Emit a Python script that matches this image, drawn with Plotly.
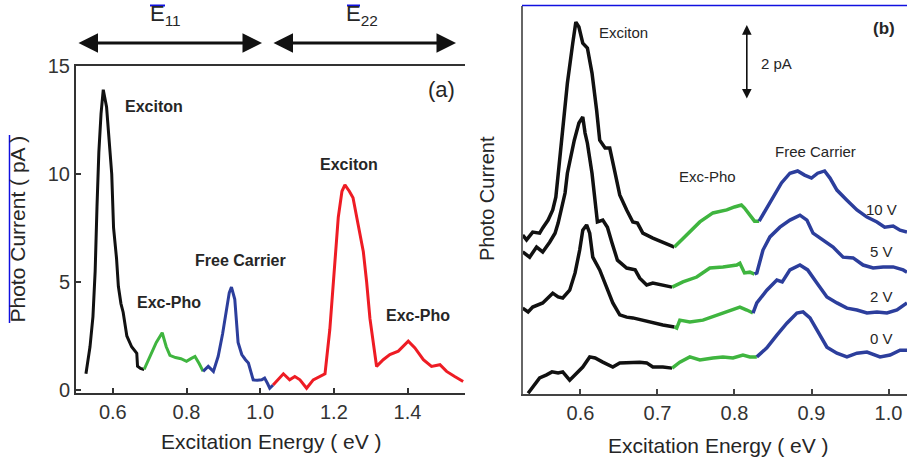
import plotly.graph_objects as go

W, H = 907, 459
FONT = "Liberation Sans, Arial, Helvetica, sans-serif"

# ---------------- Panel (a) data ----------------
a_e11_exc_x = [0.527, 0.538, 0.546, 0.552, 0.557, 0.562, 0.568, 0.574, 0.583, 0.592, 0.597, 0.602,
               0.610, 0.615, 0.622, 0.628, 0.638, 0.651, 0.665, 0.667, 0.675, 0.685]
a_e11_exc_y = [0.75, 2.0, 3.4, 5.5, 8.5, 11.0, 12.8, 13.9, 13.1, 11.2, 10.0, 7.5,
               6.1, 4.8, 4.0, 3.6, 2.5, 2.0, 1.7, 1.1, 1.0, 0.95]
a_e11_pho_x = [0.685, 0.700, 0.718, 0.734, 0.745, 0.755, 0.770, 0.785, 0.800, 0.812, 0.823, 0.835, 0.845]
a_e11_pho_y = [0.95, 1.5, 2.2, 2.65, 2.0, 1.6, 1.5, 1.45, 1.33, 1.45, 1.55, 1.2, 0.86]
a_fc_x = [0.845, 0.859, 0.873, 0.886, 0.898, 0.909, 0.916, 0.922, 0.931, 0.940, 0.950, 0.960,
          0.968, 0.981, 0.992, 1.004, 1.012, 1.020, 1.026, 1.035]
a_fc_y = [0.86, 1.09, 0.86, 1.56, 2.6, 3.75, 4.5, 4.76, 4.2, 2.2, 1.64, 1.4,
          1.25, 0.47, 0.45, 0.47, 0.55, 0.3, 0.08, 0.23]
a_e22_x = [1.035, 1.050, 1.063, 1.080, 1.094, 1.108, 1.126, 1.144, 1.162, 1.176, 1.189, 1.198,
           1.212, 1.222, 1.230, 1.242, 1.252, 1.266, 1.280, 1.289, 1.298, 1.316, 1.334, 1.352,
           1.375, 1.402, 1.420, 1.443, 1.465, 1.488, 1.506, 1.528, 1.551]
a_e22_y = [0.23, 0.5, 0.75, 0.47, 0.62, 0.47, 0.08, 0.47, 0.62, 0.75, 2.8, 5.0,
           8.0, 9.2, 9.5, 9.2, 8.9, 7.65, 6.4, 5.0, 3.3, 1.09, 1.4, 1.64,
           1.8, 2.26, 1.95, 1.4, 1.09, 1.17, 0.86, 0.62, 0.39]
a_xticks = [0.6, 0.8, 1.0, 1.2, 1.4]
a_xticktext = ["0.6", "0.8", "1.0", "1.2", "1.4"]
a_yticks = [0, 5, 10, 15]
a_yticktext = ["0", "5", "10", "15"]

# ---------------- Panel (b) data (curves offset for bias) ----------------
b10_exc_x = [0.525, 0.530, 0.538, 0.547, 0.551, 0.558, 0.564, 0.568, 0.572, 0.577, 0.583, 0.590,
             0.594, 0.598, 0.603, 0.609, 0.615, 0.621, 0.625, 0.632, 0.638, 0.645, 0.651, 0.660,
             0.668, 0.674, 0.681, 0.694, 0.707, 0.722]
b10_exc_y = [4.24, 4.11, 4.32, 4.29, 4.43, 4.64, 4.91, 5.25, 6.05, 7.12, 8.29, 9.36,
             9.92, 9.79, 9.36, 9.23, 8.56, 7.57, 6.77, 6.56, 6.56, 5.89, 5.31, 4.91,
             4.59, 4.56, 4.29, 4.16, 4.05, 3.92]
b10_pho_x = [0.722, 0.738, 0.755, 0.772, 0.790, 0.800, 0.809, 0.813, 0.820, 0.826, 0.832]
b10_pho_y = [3.92, 4.24, 4.59, 4.83, 4.91, 4.99, 5.04, 4.96, 4.77, 4.61, 4.61]
b10_fc_x = [0.832, 0.839, 0.850, 0.861, 0.872, 0.882, 0.891, 0.900, 0.908, 0.917, 0.924, 0.933,
            0.946, 0.959, 0.972, 0.985, 0.995, 1.006, 1.015, 1.024]
b10_fc_y = [4.61, 4.85, 5.25, 5.63, 5.89, 5.95, 5.84, 5.76, 5.89, 5.95, 5.76, 5.44,
            5.17, 4.91, 4.72, 4.59, 4.45, 4.48, 4.37, 4.32]

b5_exc_x = [0.525, 0.534, 0.543, 0.551, 0.560, 0.567, 0.571, 0.576, 0.580, 0.583, 0.592, 0.598,
            0.603, 0.606, 0.609, 0.615, 0.619, 0.622, 0.629, 0.635, 0.641, 0.648, 0.660, 0.671,
            0.677, 0.686, 0.694, 0.707, 0.719]
b5_exc_y = [3.79, 3.65, 3.92, 3.79, 4.05, 4.29, 4.56, 4.99, 5.36, 5.89, 6.77, 7.23,
            7.39, 6.96, 6.69, 5.89, 5.09, 4.59, 4.64, 4.45, 4.03, 3.57, 3.36, 3.31,
            3.09, 2.91, 2.96, 2.91, 2.85]
b5_pho_x = [0.719, 0.733, 0.751, 0.768, 0.785, 0.803, 0.807, 0.813, 0.820, 0.826]
b5_pho_y = [2.85, 2.99, 3.12, 3.36, 3.39, 3.44, 3.49, 3.23, 3.25, 3.20]
b5_fc_x = [0.826, 0.829, 0.837, 0.846, 0.859, 0.872, 0.885, 0.894, 0.902, 0.915, 0.928, 0.941,
           0.954, 0.967, 0.980, 0.993, 1.006, 1.019, 1.024]
b5_fc_y = [3.20, 3.23, 3.84, 4.19, 4.45, 4.64, 4.77, 4.64, 4.29, 4.11, 3.92, 3.65,
           3.63, 3.44, 3.36, 3.39, 3.39, 3.31, 3.25]

b2_exc_x = [0.525, 0.532, 0.538, 0.551, 0.564, 0.571, 0.577, 0.586, 0.593, 0.599, 0.603, 0.608,
            0.612, 0.616, 0.625, 0.634, 0.642, 0.651, 0.660, 0.668, 0.681, 0.694, 0.707, 0.722]
b2_exc_y = [2.29, 2.19, 2.32, 2.43, 2.69, 2.59, 2.56, 2.77, 3.23, 3.84, 4.37, 4.51,
            4.29, 3.65, 3.31, 2.85, 2.43, 2.11, 2.05, 2.03, 1.97, 1.89, 1.84, 1.79]
b2_pho_x = [0.722, 0.725, 0.729, 0.742, 0.759, 0.777, 0.794, 0.807, 0.816, 0.824]
b2_pho_y = [1.79, 1.76, 1.97, 1.92, 1.97, 2.11, 2.24, 2.32, 2.24, 2.16]
b2_fc_x = [0.824, 0.829, 0.842, 0.855, 0.862, 0.872, 0.885, 0.895, 0.907, 0.920, 0.933, 0.946,
           0.959, 0.972, 0.985, 0.998, 1.011, 1.024]
b2_fc_y = [2.16, 2.43, 2.77, 3.04, 2.99, 3.31, 3.44, 3.31, 2.96, 2.59, 2.43, 2.29,
           2.24, 2.16, 2.19, 2.16, 2.24, 2.43]

b0_exc_x = [0.532, 0.538, 0.547, 0.556, 0.563, 0.571, 0.577, 0.586, 0.595, 0.603, 0.612, 0.619,
            0.629, 0.642, 0.651, 0.664, 0.677, 0.686, 0.694, 0.707, 0.719]
b0_exc_y = [0.02, 0.19, 0.43, 0.51, 0.59, 0.56, 0.59, 0.37, 0.56, 0.72, 0.99, 0.96,
            0.85, 0.72, 0.83, 0.85, 0.85, 0.83, 0.72, 0.72, 0.69]
b0_pho_x = [0.719, 0.729, 0.742, 0.755, 0.772, 0.785, 0.798, 0.811, 0.820, 0.829]
b0_pho_y = [0.69, 0.85, 0.99, 0.91, 0.96, 0.99, 0.96, 1.04, 0.99, 0.99]
b0_fc_x = [0.829, 0.842, 0.855, 0.868, 0.881, 0.889, 0.898, 0.907, 0.920, 0.933, 0.946, 0.959,
           0.972, 0.989, 1.002, 1.015, 1.024]
b0_fc_y = [0.99, 1.23, 1.57, 1.89, 2.16, 2.19, 2.03, 1.71, 1.25, 1.09, 0.99, 1.09,
           1.12, 0.99, 1.04, 1.17, 1.17]

b_xticks = [0.6, 0.7, 0.8, 0.9, 1.0]
b_xticktext = ["0.6", "0.7", "0.8", "0.9", "1.0"]
bias_labels = ["10 V", "5 V", "2 V", "0 V"]
scale_bar_pA = 2.0

# ---------------- colours ----------------
BLACK = "#111111"
GREEN = "#3fb53f"
BLUE = "#2c3e9c"
RED = "#ee1c24"
TXT = "#262626"

fig = go.Figure()

def add(x, y, color, width, xa, ya):
    fig.add_trace(go.Scatter(x=x, y=y, mode="lines", xaxis=xa, yaxis=ya,
                             line=dict(color=color, width=width),
                             hoverinfo="skip", showlegend=False))

add(a_e11_exc_x, a_e11_exc_y, BLACK, 3, "x", "y")
add(a_e11_pho_x, a_e11_pho_y, GREEN, 3, "x", "y")
add(a_fc_x, a_fc_y, BLUE, 3, "x", "y")
add(a_e22_x, a_e22_y, RED, 3, "x", "y")

for ex, ey, px, py, fx, fy in [
    (b10_exc_x, b10_exc_y, b10_pho_x, b10_pho_y, b10_fc_x, b10_fc_y),
    (b5_exc_x, b5_exc_y, b5_pho_x, b5_pho_y, b5_fc_x, b5_fc_y),
    (b2_exc_x, b2_exc_y, b2_pho_x, b2_pho_y, b2_fc_x, b2_fc_y),
    (b0_exc_x, b0_exc_y, b0_pho_x, b0_pho_y, b0_fc_x, b0_fc_y),
]:
    add(ex, ey, BLACK, 3.5, "x2", "y2")
    add(px, py, GREEN, 3.5, "x2", "y2")
    add(fx, fy, BLUE, 3.5, "x2", "y2")

def px2paper(xp, yp):
    return xp / W, 1 - yp / H

tickfont = dict(family=FONT, size=20, color="#333333")

fig.update_layout(
    template="none",
    width=W, height=H, autosize=False,
    margin=dict(l=0, r=0, t=0, b=0, pad=0, autoexpand=False),
    paper_bgcolor="white", plot_bgcolor="white", showlegend=False,
    xaxis=dict(domain=[76 / W, 465 / W], range=[0.5, 1.556], tickvals=a_xticks, ticktext=a_xticktext,
               ticks="inside", ticklen=5, tickwidth=1.5, tickcolor="#333", automargin=False,
               showline=True, linecolor="#333", linewidth=2, mirror=True,
               showgrid=False, zeroline=False, tickfont=tickfont, anchor="y"),
    yaxis=dict(domain=[1 - 393 / H, 1 - 66 / H], range=[-0.14, 15.0], tickvals=a_yticks, ticktext=a_yticktext,
               ticks="inside", ticklen=5, tickwidth=1.5, tickcolor="#333", automargin=False,
               showline=True, linecolor="#333", linewidth=2,
               showgrid=False, zeroline=False, tickfont=tickfont, anchor="x"),
    xaxis2=dict(domain=[522.7 / W, 1.0], range=[0.525, 1.024], tickvals=b_xticks, ticktext=b_xticktext,
                ticks="inside", ticklen=5, tickwidth=1.5, tickcolor="#444", automargin=False,
                showline=True, linecolor="#444", linewidth=2,
                showgrid=False, zeroline=False, tickfont=tickfont, anchor="y2"),
    yaxis2=dict(domain=[1 - 394 / H, 1 - 6 / H], range=[0, 10.35], showticklabels=False, ticks="",
                showline=True, linecolor="#666", linewidth=2, automargin=False,
                showgrid=False, zeroline=False, anchor="x2"),
)

ann = []

def text(xp, yp, s, size, bold=False, angle=0, color=TXT):
    x, y = px2paper(xp, yp)
    ann.append(dict(x=x, y=y, xref="paper", yref="paper", text=(f"<b>{s}</b>" if bold else s),
                    showarrow=False, xanchor="center", yanchor="middle", textangle=angle,
                    font=dict(family=FONT, size=size, color=color)))

# panel (a) labels
text(153.5, 106, "Exciton", 16, bold=True)
text(348.5, 164, "Exciton", 16, bold=True)
text(169, 302.7, "Exc-Pho", 16, bold=True)
text(240, 260, "Free Carrier", 16, bold=True)
text(418, 315.7, "Exc-Pho", 16, bold=True)
text(441, 90, "(a)", 22)
text(165, 15, "E<sub>11</sub>", 22)
text(362, 15, "E<sub>22</sub>", 22)
text(271.5, 441, "Excitation Energy ( eV )", 21)
text(17.5, 229, "Photo Current ( pA )", 21, angle=-90)

# panel (b) labels
text(623, 32.3, "Exciton", 15)
text(776, 63.3, f"{scale_bar_pA:g} pA", 15)
text(884, 28, "(b)", 17, bold=True)
text(815.5, 151.7, "Free Carrier", 15)
text(707, 176, "Exc-Pho", 15)
for lab, yp in zip(bias_labels, [209, 251.7, 296.7, 338.3]):
    text(881, yp, lab, 15)
text(718.8, 445, "Excitation Energy ( eV )", 21)
text(487, 199, "Photo Current", 20, angle=-90)

# double arrows above panel (a)
for x0, x1 in [(77, 262), (272, 456)]:
    hx, hy = px2paper(x1, 43)
    ann.append(dict(x=hx, y=hy, xref="paper", yref="paper", ax=-(x1 - x0), ay=0,
                    axref="pixel", ayref="pixel", showarrow=True, text="",
                    arrowhead=2, arrowsize=1.3, arrowwidth=3, arrowcolor="#111",
                    arrowside="end+start", standoff=0, startstandoff=0))

# 2 pA scale arrow in panel (b)
ann.append(dict(x=0.816, y=9.84, xref="x2", yref="y2", ax=0.816, ay=9.84 - scale_bar_pA,
                axref="x2", ayref="y2", showarrow=True, text="",
                arrowhead=2, arrowsize=1.2, arrowwidth=1.6, arrowcolor="#111",
                arrowside="end+start"))

fig.update_layout(annotations=ann)

# blue artifacts in the scan
shapes = []
def seg(x0, y0, x1, y1, w=1.5, color="#1010e0"):
    a0, b0 = px2paper(x0, y0)
    a1, b1 = px2paper(x1, y1)
    shapes.append(dict(type="line", xref="paper", yref="paper", x0=a0, y0=b0, x1=a1, y1=b1,
                       line=dict(color=color, width=w)))
seg(9.5, 135, 9.5, 323)
seg(522, 5.5, 907, 5.5)
seg(150, 5.5, 165, 5.5, 2)
seg(347, 5.5, 360, 5.5, 2)
fig.update_layout(shapes=shapes)

fig.write_html("out.html", config={"responsive": False, "displayModeBar": False},
               post_script="document.body.style.margin='0';document.body.style.padding='0';"
                           "document.body.style.overflow='hidden';"
                           "document.documentElement.style.overflow='hidden';")
